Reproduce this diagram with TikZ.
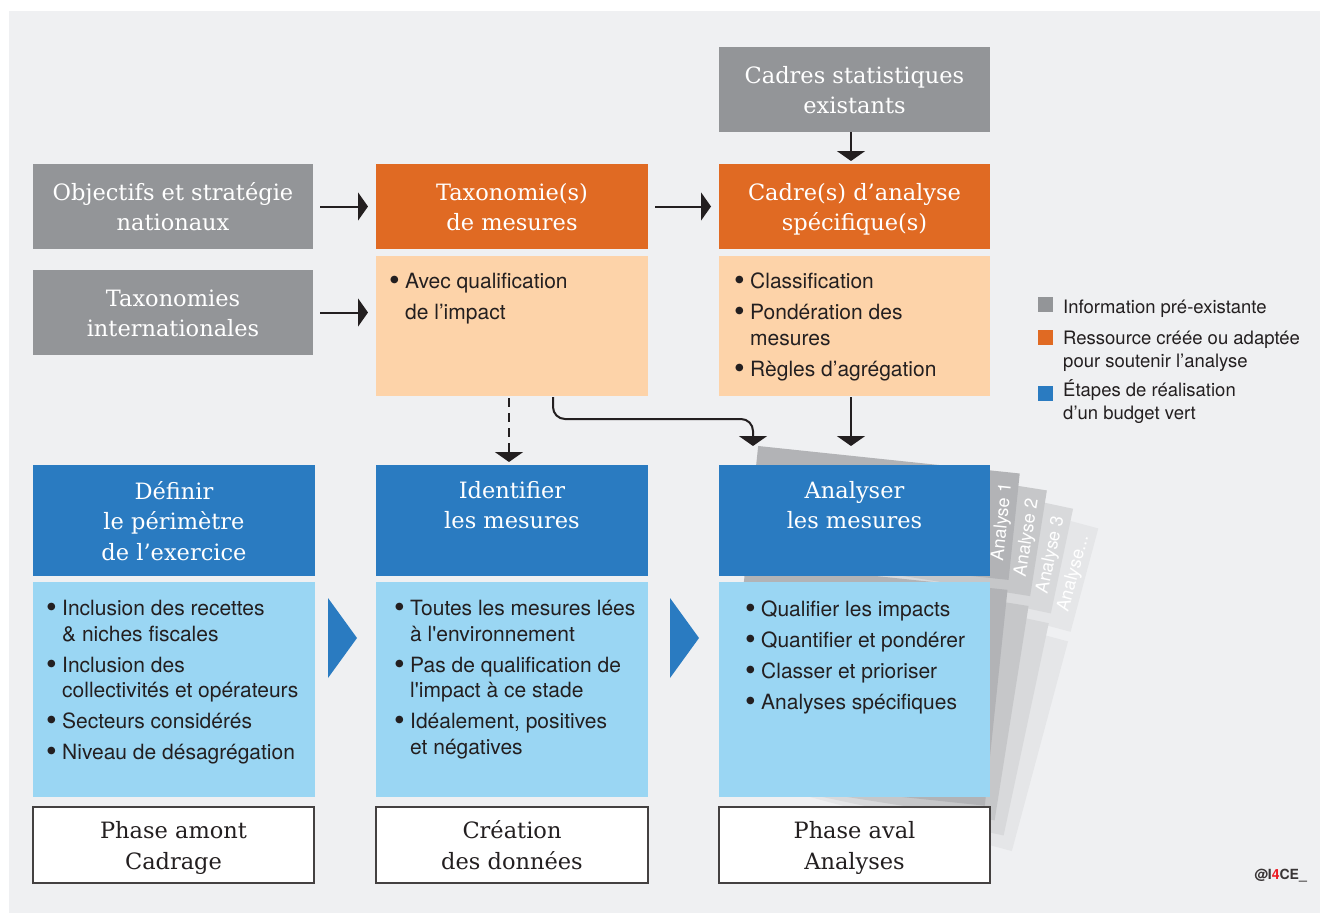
\documentclass[tikz,border=0pt]{standalone}
\usepackage{fontspec}
\usepackage{graphicx}
\setmainfont{DejaVu Serif}
\newfontfamily\sansf{TeX Gyre Heros}
\usetikzlibrary{arrows.meta}
\definecolor{bg}{HTML}{EFF0F2}
\definecolor{igray}{HTML}{939598}
\definecolor{iorange}{HTML}{E06A23}
\definecolor{ilorange}{HTML}{FDD3A9}
\definecolor{iblue}{HTML}{2A7BC1}
\definecolor{ilblue}{HTML}{9AD6F3}
\definecolor{ink}{HTML}{231F20}
\definecolor{pgA}{HTML}{B2B3B6}
\definecolor{pgB}{HTML}{C6C7C9}
\definecolor{pgC}{HTML}{D8D9DB}
\definecolor{pgD}{HTML}{E5E6E8}
\definecolor{ired}{HTML}{ED1C24}
\newcommand{\serifbig}{\fontsize{22.5}{30.5}\selectfont}
\newcommand{\itemfont}{\sansf\fontsize{21}{26}\selectfont}
\newcommand{\legfont}{\sansf\fontsize{18.5}{23}\selectfont}
\newcommand{\bul}{\makebox[16pt][l]{\raisebox{-2.6pt}{\scalebox{1.45}{\textbullet}}}}
\newcommand{\topstrut}{\rule{0pt}{27pt}}
\tikzset{
  box/.style={inner sep=0pt, outer sep=0pt, rectangle},
  grayb/.style={box, fill=igray, text=white, align=center, font=\serifbig},
  orangeb/.style={box, fill=iorange, text=white, align=center, font=\serifbig},
  lorangeb/.style={box, fill=ilorange},
  blueb/.style={box, fill=iblue},
  bluetxt/.style={inner sep=0pt, anchor=north, text=white, align=center, font=\serifbig},
  lblueb/.style={box, fill=ilblue},
  phaseb/.style={box, fill=white, draw=ink!85, line width=1.5pt, text=ink, align=center, font=\serifbig},
  itm/.style={anchor=base west, inner sep=0pt, font=\itemfont, text=ink},
  legtxt/.style={anchor=base west, inner sep=0pt, font=\legfont, text=ink},
  legsq/.style={box, minimum size=15pt},
  arr/.style={draw=ink, line width=2pt, -{Triangle[width=28pt,length=10pt]}},
  pagelbl/.style={inner sep=0pt, text=white, font=\sansf\fontsize{18}{20}\selectfont, rotate=90, transform shape},
  chevron/.style={fill=iblue}
}
\begin{document}
\begin{tikzpicture}[x=1pt,y=-1pt]
\useasboundingbox (0,0) rectangle (1322,915);
\fill[white] (0,0) rectangle (1322,915);
\fill[bg] (9,11) rectangle (1320,913);

% fanned pages behind "Analyser"
\begin{scope}[rotate around={-15:(710,1000)}]
  \fill[pgD] (700,444) rectangle (963,551);
  \fill[pgD] (700,561) rectangle (963,778);
  \node[pagelbl] (an4) at (951,494) {Analyse...};
\end{scope}
\begin{scope}[rotate around={-12:(710,1000)}]
  \fill[pgC] (700,444) rectangle (963,551);
  \fill[pgC] (700,561) rectangle (963,778);
  \node[pagelbl] (an3) at (951,494) {Analyse 3};
\end{scope}
\begin{scope}[rotate around={-9:(710,1000)}]
  \fill[pgB] (700,444) rectangle (963,551);
  \fill[pgB] (700,561) rectangle (963,778);
  \node[pagelbl] (an2) at (951,494) {Analyse 2};
\end{scope}
\begin{scope}[rotate around={-6:(710,1000)}]
  \fill[pgA] (700,444) rectangle (963,551);
  \fill[pgA] (700,561) rectangle (963,778);
  \node[pagelbl] (an1) at (951,494) {Analyse 1};
\end{scope}

% top row
\node[grayb, minimum width=280pt, minimum height=85pt] (obj) at (173,206.5) {\topstrut Objectifs et stratégie\\nationaux\strut};
\node[grayb, minimum width=280pt, minimum height=85pt] (taxi) at (173,312.5) {\topstrut Taxonomies\\internationales\strut};
\node[orangeb, minimum width=272pt, minimum height=85pt] (taxo) at (512,206.5) {\topstrut Taxonomie(s)\\de mesures\strut};
\node[lorangeb, minimum width=272pt, minimum height=140pt] (taxol) at (512,326) {};
\node[grayb, minimum width=271pt, minimum height=85pt] (stats) at (854.5,89.5) {\topstrut Cadres statistiques\\existants\strut};
\node[orangeb, minimum width=271pt, minimum height=85pt] (cadre) at (854.5,206.5) {\topstrut Cadre(s) d’analyse\\spécifique(s)\strut};
\node[lorangeb, minimum width=271pt, minimum height=140pt] (cadrel) at (854.5,326) {};

\node[itm] (tx1) at (389,288) {\bul Avec qualification};
\node[itm] (tx2) at (405,319) {de l’impact};
\node[itm] (cd1) at (734,288) {\bul Classification};
\node[itm] (cd2) at (734,319) {\bul Pondération des};
\node[itm] (cd3) at (750,345) {mesures};
\node[itm] (cd4) at (734,376) {\bul Règles d’agrégation};

% blue row
\node[blueb, minimum width=282pt, minimum height=111pt] (blue1) at (174,520.5) {};
\node[blueb, minimum width=272pt, minimum height=111pt] (blue2) at (512,520.5) {};
\node[blueb, minimum width=271pt, minimum height=111pt] (blue3) at (854.5,520.5) {};
\node[bluetxt] (blue1t) at (174,481) {Définir\\le périmètre\\de l’exercice};
\node[bluetxt] (blue2t) at (512,481) {Identifier\\les mesures};
\node[bluetxt] (blue3t) at (854.5,481) {Analyser\\les mesures};

% light blue row
\node[lblueb, minimum width=282pt, minimum height=215pt] (lb1) at (174,689.5) {};
\node[lblueb, minimum width=272pt, minimum height=215pt] (lb2) at (512,689.5) {};
\node[lblueb, minimum width=271pt, minimum height=215pt] (lb3) at (854.5,689.5) {};

\node[itm] (a1) at (46,615) {\bul Inclusion des recettes};
\node[itm] (a2) at (62,641) {\& niches fiscales};
\node[itm] (a3) at (46,672) {\bul Inclusion des};
\node[itm] (a4) at (62,697) {collectivités et opérateurs};
\node[itm] (a5) at (46,728) {\bul Secteurs considérés};
\node[itm] (a6) at (46,759) {\bul Niveau de désagrégation};

\node[itm] (b1) at (394,615) {\bul Toutes les mesures lées};
\node[itm] (b2) at (410,641) {à l'environnement};
\node[itm] (b3) at (394,672) {\bul Pas de qualification de};
\node[itm] (b4) at (410,697) {l'impact à ce stade};
\node[itm] (b5) at (394,728) {\bul Idéalement, positives};
\node[itm] (b6) at (410,754) {et négatives};

\node[itm] (c1) at (745,616) {\bul Qualifier les impacts};
\node[itm] (c2) at (745,647) {\bul Quantifier et pondérer};
\node[itm] (c3) at (745,678) {\bul Classer et prioriser};
\node[itm] (c4) at (745,709) {\bul Analyses spécifiques};

% chevrons
\fill[chevron] (328,598) -- (357,638) -- (328,678) -- cycle;
\fill[chevron] (670,598) -- (699,638) -- (670,678) -- cycle;

% phase boxes
\node[phaseb, minimum width=281pt, minimum height=76pt] (ph1) at (173.5,845) {\topstrut Phase amont\\Cadrage\strut};
\node[phaseb, minimum width=272pt, minimum height=76pt] (ph2) at (512,845) {\topstrut Création\\des données\strut};
\node[phaseb, minimum width=271pt, minimum height=76pt] (ph3) at (854.5,845) {\topstrut Phase aval\\Analyses\strut};

% connectors
\draw[arr, shorten <=7pt, shorten >=8pt] (obj.east) -- (obj.east -| taxo.west);
\draw[arr, shorten <=7pt, shorten >=8pt] (taxi.east) -- (taxi.east -| taxo.west);
\draw[arr, shorten <=7pt, shorten >=8pt] (taxo.east) -- (cadre.west);
\draw[arr, shorten >=3pt] ([xshift=-3.5pt]stats.south) -- ([xshift=-3.5pt]cadre.north);
\draw[arr, dash pattern=on 9pt off 6pt, shorten <=2pt, shorten >=3pt] ([xshift=-3pt]taxol.south) -- ([xshift=-3pt]blue2.north);
\coordinate (p1bend) at (753,419);
\coordinate (p1top) at (753,446);
\coordinate (p2top) at (851,446);
\draw[arr, rounded corners=12pt, shorten <=1pt] ([xshift=41pt]taxol.south) |- (p1bend) -- (p1top);
\draw[arr, shorten <=1pt] ([xshift=-3.5pt]cadrel.south) -- (p2top);

% legend
\node[legsq, fill=igray] (lg1) at (1045.5,304.5) {};
\node[legsq, fill=iorange] (lg2) at (1045.5,337.5) {};
\node[legsq, fill=iblue] (lg3) at (1045.5,393.5) {};
\node[legtxt] (lt1) at (1063,313) {Information pré-existante};
\node[legtxt] (lt2) at (1063,344) {Ressource créée ou adaptée};
\node[legtxt] (lt3) at (1063,367) {pour soutenir l’analyse};
\node[legtxt] (lt4) at (1063,396) {Étapes de réalisation};
\node[legtxt] (lt5) at (1063,419) {d’un budget vert};

\node[anchor=base east, inner sep=0pt, text=ink!90, font=\sansf\bfseries\fontsize{14}{16}\selectfont] (credit) at (1307,879) {@I\textcolor{ired}{4}CE\_};
\end{tikzpicture}
\end{document}
